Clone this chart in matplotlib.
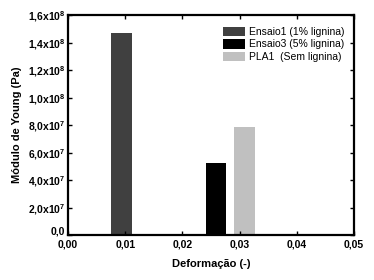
import matplotlib
matplotlib.use("Agg")
import matplotlib.pyplot as plt

plt.rcParams['font.family'] = ['Liberation Sans', 'DejaVu Sans']
plt.rcParams['mathtext.default'] = 'regular'

labels = ["Ensaio1 (1% lignina)", "Ensaio3 (5% lignina)", "PLA1  (Sem lignina)"]
deform = [0.0094, 0.0259, 0.0309]
modulus = [1.47e8, 0.525e8, 0.785e8]
colors = ["#404040", "#000000", "#c0c0c0"]
bar_width = 0.0036

xticks = [0.00, 0.01, 0.02, 0.03, 0.04, 0.05]
xticklabels = ["0,00", "0,01", "0,02", "0,03", "0,04", "0,05"]
yticks = [0, 2e7, 4e7, 6e7, 8e7, 1e8, 1.2e8, 1.4e8, 1.6e8]
yticklabels = ["0,0", "2,0x10$^{7}$", "4,0x10$^{7}$", "6,0x10$^{7}$", "8,0x10$^{7}$",
               "1,0x10$^{8}$", "1,2x10$^{8}$", "1,4x10$^{8}$", "1,6x10$^{8}$"]

fig = plt.figure(figsize=(3.74, 2.80), dpi=100)
ax = fig.add_axes([68/374, 45/280, (354-68)/374, (235-15)/280])

for x, h, c, lab in zip(deform, modulus, colors, labels):
    ax.bar(x, h, width=bar_width, color=c, label=lab, zorder=1)

ax.set_xlim(0, 0.05)
ax.set_ylim(0, 1.6e8)
ax.set_xticks(xticks)
ax.set_xticklabels(xticklabels, fontsize=7.5, fontweight='bold')
ax.set_yticks(yticks)
ax.set_yticklabels(yticklabels, fontsize=7.5, fontweight='bold')
ax.tick_params(direction='in', length=3, width=1, top=True, right=True)
ax.tick_params(axis='x', pad=3)
ax.tick_params(axis='y', pad=2)
# nudge the "0,0" label slightly up to clear the "0,00" label
ax.get_yticklabels()[0].set_verticalalignment('baseline')
for s in ax.spines.values():
    s.set_linewidth(1.6)

ax.set_xlabel("Deformação (-)", fontsize=8, fontweight='bold', labelpad=7)
ax.set_ylabel("Módulo de Young (Pa)", fontsize=8, fontweight='bold', labelpad=4)

leg = ax.legend(loc='upper right', frameon=False, fontsize=7.5, handlelength=2.2,
                handleheight=1.05, handletextpad=0.35, labelspacing=0.2,
                bbox_to_anchor=(1.0, 0.99), borderaxespad=0.5)

fig.savefig("out.png", dpi=100)
